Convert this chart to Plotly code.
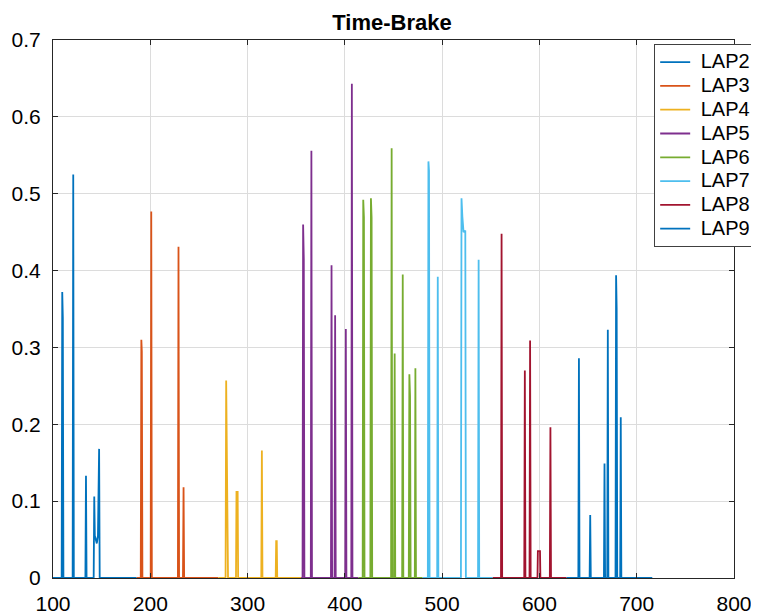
import plotly.graph_objects as go

# ---- data (time in s, brake value) ----
lap_names = ["LAP2", "LAP3", "LAP4", "LAP5", "LAP6", "LAP7", "LAP8", "LAP9"]
lap_colors = ["#0072BD", "#D95319", "#EDB120", "#7E2F8E", "#77AC30", "#4DBEEE", "#A2142F", "#0072BD"]

lap2_t = [100, 108.9, 109.5, 110.1, 110.7, 120.2, 120.8, 121.4, 133.3, 133.9, 134.5,
          141.8, 142.4, 143.0, 144.0, 145.0, 146.2, 147.4, 148.0, 186]
lap2_b = [0, 0, 0.372, 0.339, 0, 0, 0.525, 0, 0, 0.133, 0,
          0, 0.106, 0.055, 0.05, 0.045, 0.055, 0.168, 0, 0]

lap3_t = [186, 190.2, 190.8, 191.3, 191.9, 200.4, 201.0, 201.6, 228.4, 229.0, 229.6,
          233.6, 234.2, 234.8, 270]
lap3_b = [0, 0, 0.31, 0.295, 0, 0, 0.477, 0, 0, 0.431, 0,
          0, 0.118, 0, 0]

lap4_t = [270, 277.4, 278.0, 278.7, 279.3, 279.9, 288.1, 288.6, 289.8, 290.3,
          314.1, 314.7, 315.3, 328.9, 329.4, 330.0, 330.5, 355]
lap4_b = [0, 0, 0.257, 0.164, 0.14, 0, 0, 0.112, 0.112, 0,
          0, 0.166, 0, 0, 0.048, 0.048, 0, 0]

lap5_t = [355, 356.5, 357.1, 357.8, 358.4, 365.0, 365.6, 366.2, 385.7, 386.3, 386.9,
          389.4, 390.0, 390.6, 400.4, 401.0, 401.6, 406.6, 407.2, 407.8, 414]
lap5_b = [0, 0, 0.46, 0.415, 0, 0, 0.556, 0, 0, 0.407, 0,
          0, 0.342, 0, 0, 0.324, 0, 0, 0.643, 0, 0]

lap6_t = [414, 418.3, 418.9, 419.6, 420.2, 426.2, 426.8, 427.5, 428.1, 447.5, 448.1, 448.7,
          450.6, 451.2, 451.8, 458.9, 459.5, 460.1, 465.7, 466.3, 467.0, 467.6,
          471.9, 472.5, 473.1, 480]
lap6_b = [0, 0, 0.492, 0.469, 0, 0, 0.494, 0.469, 0, 0, 0.559, 0,
          0, 0.292, 0, 0, 0.395, 0, 0, 0.265, 0.237, 0,
          0, 0.273, 0, 0]

lap7_t = [480, 485.3, 485.9, 486.5, 487.1, 494.9, 495.5, 496.1, 519.3, 519.9, 520.8,
          522.0, 523.8, 524.4, 536.9, 537.5, 538.1, 552]
lap7_b = [0, 0, 0.542, 0.53, 0, 0, 0.392, 0, 0, 0.494, 0.47,
          0.45, 0.452, 0, 0, 0.414, 0, 0]

lap8_t = [552, 560.5, 561.1, 561.7, 584.4, 585.0, 585.6, 589.8, 590.4, 591.0,
          598.0, 598.4, 600.6, 601.0, 610.7, 611.3, 611.9, 628]
lap8_b = [0, 0, 0.448, 0, 0, 0.27, 0, 0, 0.309, 0,
          0, 0.035, 0.035, 0, 0, 0.196, 0, 0]

lap9_t = [628, 640.0, 640.6, 641.2, 651.6, 652.2, 652.8, 666.3, 666.9, 667.5,
          669.7, 670.3, 670.9, 678.2, 678.8, 679.4, 680.0, 683.0, 683.6, 684.2, 716]
lap9_b = [0, 0, 0.286, 0, 0, 0.082, 0, 0, 0.149, 0,
          0, 0.323, 0, 0, 0.394, 0.35, 0, 0, 0.209, 0, 0]

lap_t = [lap2_t, lap3_t, lap4_t, lap5_t, lap6_t, lap7_t, lap8_t, lap9_t]
lap_b = [lap2_b, lap3_b, lap4_b, lap5_b, lap6_b, lap7_b, lap8_b, lap9_b]

x_ticks = [100, 200, 300, 400, 500, 600, 700, 800]
y_ticks = [0, 0.1, 0.2, 0.3, 0.4, 0.5, 0.6, 0.7]
y_ticktext = ["0", "0.1", "0.2", "0.3", "0.4", "0.5", "0.6", "0.7"]

FONT = "Liberation Sans, Arial, sans-serif"

# page has an 8px body margin; figure sized/margined to compensate
W, H = 751, 608
ML, MR, MT, MB = 45, 25, 32, 38

fig = go.Figure()
for name, color, t, b in zip(lap_names, lap_colors, lap_t, lap_b):
    fig.add_trace(go.Scatter(x=t, y=b, mode="lines",
                             name='<span style="font-size:20px">&nbsp;%s</span>' % name,
                             line=dict(color=color, width=1.8)))

axis_common = dict(showgrid=True, gridcolor="#dcdcdc", gridwidth=1,
                   showline=True, linecolor="#262626", linewidth=1.2, mirror="ticks",
                   ticks="inside", ticklen=5, tickcolor="#262626", zeroline=False,
                   automargin=False,
                   tickfont=dict(family=FONT, size=21, color="#000000"))

fig.update_layout(
    width=W, height=H,
    margin=dict(l=ML, r=MR, t=MT, b=MB, autoexpand=False),
    paper_bgcolor="white", plot_bgcolor="white",
    title=dict(text="<b>Time-Brake</b>", x=384 / W, xanchor="center",
               y=1 - 14 / H, yanchor="middle",
               font=dict(family=FONT, size=22, color="#000000")),
    xaxis=dict(range=[100, 800], tickvals=x_ticks, ticklabelstandoff=7, **axis_common),
    yaxis=dict(range=[0, 0.7], tickvals=y_ticks, ticktext=y_ticktext,
               ticklabelstandoff=7, **axis_common),
    legend=dict(x=0.8825, y=0.9926, xanchor="left", yanchor="top",
                bgcolor="white", bordercolor="#404040", borderwidth=1.2,
                font=dict(family=FONT, size=16, color="#000000"),
                tracegroupgap=0, itemwidth=30),
    showlegend=True,
)

fig.write_html("out.html")
